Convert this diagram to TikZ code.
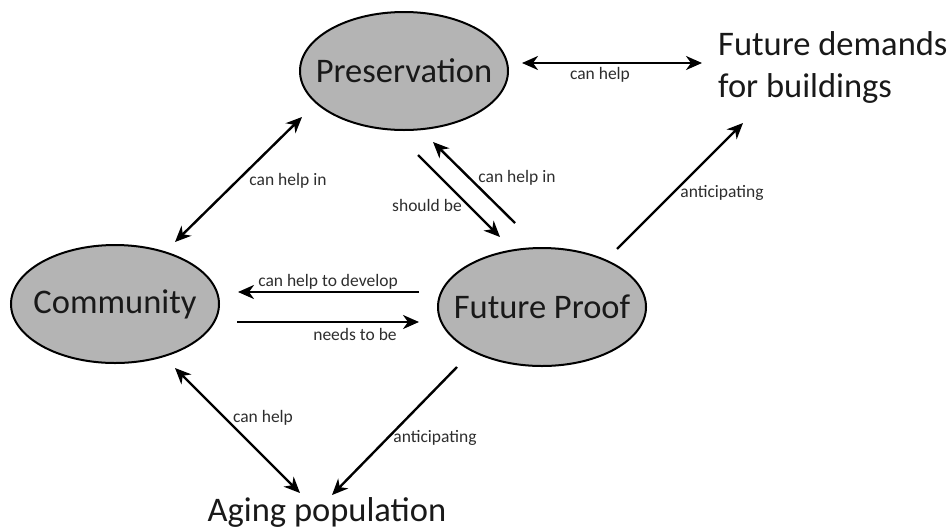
\documentclass[tikz,border=0pt]{standalone}
\usepackage{fontspec}
\setmainfont{Carlito}
\usetikzlibrary{shapes.geometric,arrows.meta}
\definecolor{ellfill}{RGB}{180,180,180}
\definecolor{txt}{RGB}{25,25,25}
\definecolor{lbltxt}{RGB}{45,45,45}
\begin{document}
\begin{tikzpicture}[x=1pt,y=-1pt,
  concept/.style={ellipse,draw=black,line width=2pt,fill=ellfill,minimum width=208pt,minimum height=118pt,inner sep=0pt,font=\fontsize{34.5}{40}\selectfont,text=txt},
  bigtext/.style={font=\fontsize{34.5}{42}\selectfont,text=txt,inner sep=0pt},
  lbl/.style={font=\fontsize{17.5}{20}\selectfont,text=lbltxt,inner sep=0pt},
  tip/.tip={Stealth[length=16pt,width=14pt,inset=5pt]},
  onelink/.style={line width=2.4pt,-tip},
  twolink/.style={line width=2.4pt,tip-tip}]
\useasboundingbox (0,0) rectangle (952,531);

% concepts
\node[concept] (pres) at (404,71) {\makebox[0pt]{Preservation}};
\node[concept] (comm) at (115,304) {\makebox[0pt]{Community}};
\node[concept] (fp) at (542,307) {\makebox[0pt]{Future Proof}};
\node[bigtext,align=left,anchor=north west] (fd) at (718,31) {Future demands\\for buildings};
\node[bigtext,anchor=base] (age) at (327,521) {Aging population};

% connector ends
\coordinate (a1) at (522,63);  \coordinate (a2) at (702,63);
\coordinate (b1) at (175,242); \coordinate (b2) at (302,117);
\coordinate (c1) at (418,155); \coordinate (c2) at (500,237);
\coordinate (d1) at (515,223); \coordinate (d2) at (433,142);
\coordinate (e1) at (617,249); \coordinate (e2) at (743,123);
\coordinate (f1) at (419,292); \coordinate (f2) at (238,292);
\coordinate (g1) at (237,322); \coordinate (g2) at (419,322);
\coordinate (h1) at (175,368); \coordinate (h2) at (300,493);
\coordinate (i1) at (457,367); \coordinate (i2) at (332,495);

% connectors
\draw[twolink] (a1) -- (a2);
\draw[twolink] (b1) -- (b2);
\draw[onelink] (c1) -- (c2);
\draw[onelink] (d1) -- (d2);
\draw[onelink] (e1) -- (e2);
\draw[onelink] (f1) -- (f2);
\draw[onelink] (g1) -- (g2);
\draw[twolink] (h1) -- (h2);
\draw[onelink] (i1) -- (i2);

% labels
\node[lbl] (la) at (600,75) {can help};
\node[lbl] (lb) at (288,181) {can help in};
\node[lbl] (lc) at (427,205) {should be};
\node[lbl] (ld) at (517,178) {can help in};
\node[lbl] (le) at (722,193) {anticipating};
\node[lbl] (lf) at (328,282) {can help to develop};
\node[lbl] (lg) at (355,334) {needs to be};
\node[lbl] (lh) at (263,418) {can help};
\node[lbl] (li) at (435,438) {anticipating};
\end{tikzpicture}
\end{document}
